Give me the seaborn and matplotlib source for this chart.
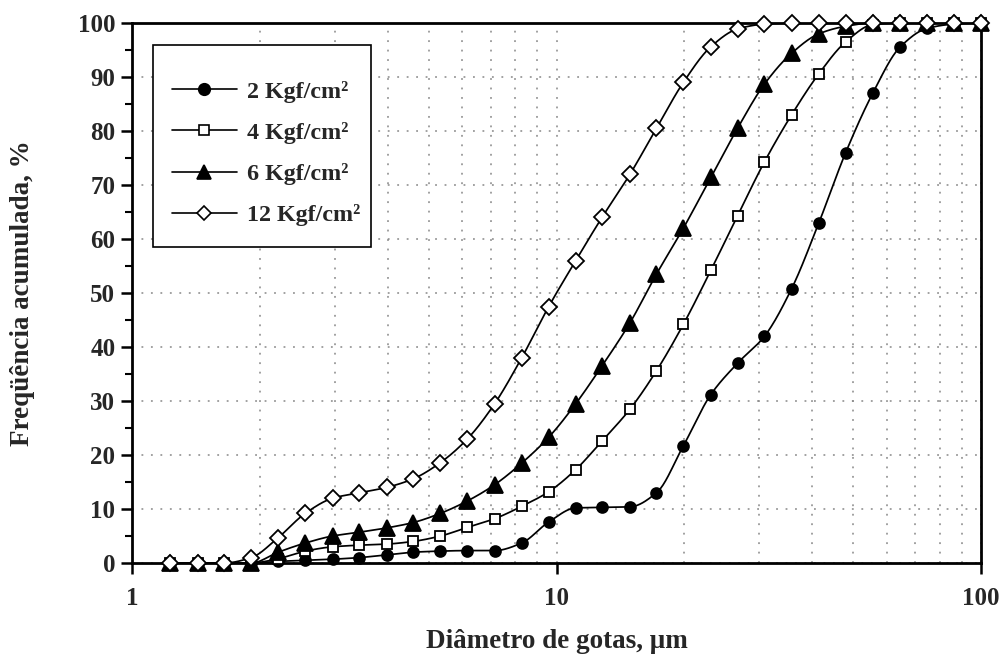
import numpy as np
import pandas as pd
import matplotlib
matplotlib.use("Agg")
import matplotlib.pyplot as plt
import seaborn as sns
from matplotlib.lines import Line2D
from matplotlib.patches import Rectangle
from matplotlib.ticker import MultipleLocator, FixedLocator, NullFormatter

# ---------------- data ----------------
diameters = [1.23, 1.43, 1.65, 1.91, 2.21, 2.56, 2.97, 3.43, 3.98, 4.60,
             5.33, 6.17, 7.15, 8.28, 9.59, 11.1, 12.8, 14.9, 17.2, 19.9,
             23.1, 26.7, 30.9, 35.8, 41.5, 48.0, 55.6, 64.4, 74.6, 86.4, 100.0]

freq_2 = [0, 0, 0, 0, 0.3, 0.5, 0.7, 1.0, 1.5, 2.0,
          2.2, 2.3, 2.3, 3.7, 7.6, 10.2, 10.3, 10.4, 13.0, 21.7,
          31.2, 37.0, 42.0, 50.8, 63.0, 76.0, 87.0, 95.5, 99.0, 99.8, 100]
freq_4 = [0, 0, 0, 0, 0.8, 2.2, 3.0, 3.3, 3.5, 4.0,
          5.0, 6.6, 8.2, 10.5, 13.2, 17.3, 22.6, 28.5, 35.6, 44.2,
          54.2, 64.3, 74.3, 83.0, 90.6, 96.5, 99.7, 100, 100, 100, 100]
freq_6 = [0, 0, 0, 0, 2.0, 3.7, 5.0, 5.7, 6.5, 7.5,
          9.2, 11.5, 14.5, 18.5, 23.3, 29.5, 36.5, 44.5, 53.5, 62.0,
          71.4, 80.5, 88.7, 94.4, 98.0, 99.4, 100, 100, 100, 100, 100]
freq_12 = [0, 0, 0, 1.0, 4.7, 9.2, 12.0, 13.0, 14.0, 15.6,
           18.6, 23.0, 29.5, 38.0, 47.5, 56.0, 64.0, 72.0, 80.5, 89.0,
           95.6, 98.9, 99.8, 100, 100, 100, 100, 100, 100, 100, 100]

series_labels = ["2 Kgf/cm²", "4 Kgf/cm²", "6 Kgf/cm²", "12 Kgf/cm²"]
series_values = [freq_2, freq_4, freq_6, freq_12]
x_ticks = [1, 10, 100]
y_ticks = [0, 10, 20, 30, 40, 50, 60, 70, 80, 90, 100]

# marker styles per series (plot, legend sizes)
marker_styles = [
    dict(marker="o", markersize=7.8, markerfacecolor="black"),
    dict(marker="s", markersize=7.6, markerfacecolor="white"),
    dict(marker="^", markersize=11.0, markerfacecolor="black"),
    dict(marker="D", markersize=8.3, markerfacecolor="white"),
]
legend_marker_sizes = [8.3, 6.6, 10.5, 7.2]


def pchip(xk, yk, xq):
    """Monotone cubic (Fritsch-Carlson) curve through the data points."""
    xk = np.asarray(xk, float)
    yk = np.asarray(yk, float)
    h = np.diff(xk)
    d = np.diff(yk) / h
    m = np.zeros_like(yk)
    for i in range(1, len(xk) - 1):
        if d[i - 1] * d[i] > 0:
            w1 = 2 * h[i] + h[i - 1]
            w2 = h[i] + 2 * h[i - 1]
            m[i] = (w1 + w2) / (w1 / d[i - 1] + w2 / d[i])
    idx = np.clip(np.searchsorted(xk, xq) - 1, 0, len(xk) - 2)
    t = (xq - xk[idx]) / h[idx]
    h00 = 2 * t**3 - 3 * t**2 + 1
    h10 = t**3 - 2 * t**2 + t
    h01 = -2 * t**3 + 3 * t**2
    h11 = t**3 - t**2
    return (h00 * yk[idx] + h10 * h[idx] * m[idx]
            + h01 * yk[idx + 1] + h11 * h[idx] * m[idx + 1])


# ---------------- style ----------------
sns.set_theme(style="white")
plt.rcParams["font.family"] = ["Liberation Serif", "DejaVu Serif"]
plt.rcParams["font.weight"] = "bold"
plt.rcParams["axes.labelweight"] = "bold"

W, H = 1003, 655
fig = plt.figure(figsize=(W / 100, H / 100), dpi=100)
L, R, T, B = 132, 981, 23, 563
ax = fig.add_axes([L / W, (H - B) / H, (R - L) / W, (B - T) / H])


def ax_xy(px, py):
    return (px - L) / (R - L), (B - py) / (B - T)


points = pd.concat([
    pd.DataFrame({"d": diameters, "f": vals, "s": lab})
    for lab, vals in zip(series_labels, series_values)
])

logx = np.log10(diameters)
for lab, vals, ms in zip(series_labels, series_values, marker_styles):
    xq = np.linspace(logx[0], logx[-1], 600)
    yq = pchip(logx, vals, xq)
    curve = pd.DataFrame({"d": 10 ** xq, "f": yq})
    sns.lineplot(data=curve, x="d", y="f", ax=ax, color="black",
                 linewidth=1.25, legend=False, zorder=3)
    sub = points[points["s"] == lab]
    ax.plot(sub["d"], sub["f"], linestyle="none", color="black",
            markeredgecolor="black", markeredgewidth=1.3, zorder=6,
            clip_on=False, **ms)

ax.set_xscale("log")
ax.set_xlim(1, 100)
ax.set_ylim(0, 100)

ax.xaxis.set_major_locator(FixedLocator(x_ticks))
ax.set_xticklabels([str(t) for t in x_ticks])
minor_x = [m * 10**e for e in (0, 1) for m in range(2, 10)]
ax.xaxis.set_minor_locator(FixedLocator(minor_x))
ax.xaxis.set_minor_formatter(NullFormatter())
ax.yaxis.set_major_locator(FixedLocator(y_ticks))
ax.yaxis.set_minor_locator(MultipleLocator(5))

grid_kw = dict(color="#888888", linestyle=(0, (1.2, 5)), linewidth=1.1)
ax.grid(True, which="major", axis="both", **grid_kw)
ax.grid(True, which="minor", axis="x", **grid_kw)
ax.set_axisbelow(True)

for sp in ax.spines.values():
    sp.set_visible(True)
    sp.set_color("black")
    sp.set_linewidth(2.0)
    sp.set_zorder(5)

ax.tick_params(axis="both", which="major", direction="out", length=8,
               width=1.8, color="black", labelsize=18, pad=4,
               left=True, bottom=True)
ax.tick_params(axis="y", which="minor", direction="out", length=5,
               width=1.5, color="black", left=True)
ax.tick_params(axis="x", which="minor", length=0)
ax.tick_params(axis="x", which="major", pad=9)
for lbl in ax.get_xticklabels() + ax.get_yticklabels():
    lbl.set_fontweight("bold")

ax.set_xlabel("Diâmetro de gotas, μm", fontsize=19.5, fontweight="bold")
ax.set_ylabel("Freqüência acumulada, %", fontsize=19.5, fontweight="bold")
ax.xaxis.set_label_coords(0.5, (B - 641) / (B - T))
ax.xaxis.label.set_verticalalignment("center")
ax.yaxis.set_label_coords((22 - L) / (R - L), 0.5)
ax.yaxis.label.set_verticalalignment("center")
ax.yaxis.label.set_horizontalalignment("center")

# legend: frame drawn as a rectangle, entries as a frameless legend
x0, y0 = ax_xy(153, 247)
x1, y1 = ax_xy(371, 45)
frame = Rectangle((x0, y0), x1 - x0, y1 - y0, transform=ax.transAxes,
                  facecolor="white", edgecolor="black", linewidth=1.2,
                  zorder=9, clip_on=False)
ax.add_patch(frame)

handles = [Line2D([], [], color="black", linewidth=1.2,
                  markeredgecolor="black", markeredgewidth=1.2,
                  **{**ms, "markersize": s})
           for ms, s in zip(marker_styles, legend_marker_sizes)]
leg = ax.legend(handles, series_labels, loc="center left",
                bbox_to_anchor=ax_xy(172, 153.5),
                borderaxespad=0, borderpad=0,
                frameon=False,
                prop=dict(family="Liberation Serif", weight="bold", size=17.3),
                handlelength=2.7, handletextpad=0.42, labelspacing=0.8)
leg.set_zorder(10)

fig.savefig("out.png", dpi=100)
